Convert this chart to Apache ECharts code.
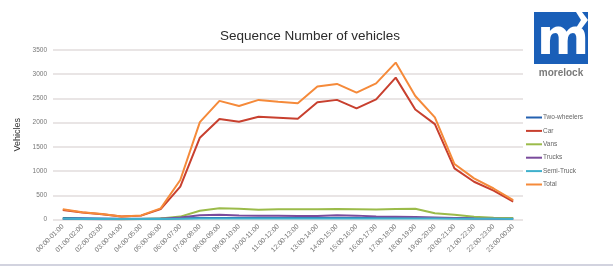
<!DOCTYPE html>
<html><head><meta charset="utf-8">
<script src="https://cdn.jsdelivr.net/npm/echarts@6/dist/echarts.min.js"></script>
<style>html,body{margin:0;padding:0;background:#fff}#c{width:613px;height:271px}</style>
</head><body><div id="c"></div>
<script>
const categories = ["00:00-01:00","01:00-02:00","02:00-03:00","03:00-04:00","04:00-05:00","05:00-06:00","06:00-07:00","07:00-08:00","08:00-09:00","09:00-10:00","10:00-11:00","11:00-12:00","12:00-13:00","13:00-14:00","14:00-15:00","15:00-16:00","16:00-17:00","17:00-18:00","18:00-19:00","19:00-20:00","20:00-21:00","21:00-22:00","22:00-23:00","23:00-00:00"];
const twoWheelers = [30,25,20,15,15,20,25,30,30,30,30,30,30,30,30,30,30,30,30,30,30,25,25,25];
const car   = [195,145,110,60,80,215,680,1690,2075,2020,2120,2100,2080,2420,2470,2295,2480,2930,2270,1970,1055,780,595,370];
const vans  = [15,10,8,5,8,20,60,180,230,220,200,210,210,210,215,210,205,215,220,130,100,55,35,25];
const trucks= [10,8,6,5,8,15,40,90,100,85,80,75,70,70,90,80,60,55,50,40,30,20,15,10];
const semiTruck = [15,12,10,8,8,10,15,20,20,20,20,20,20,20,20,20,20,20,20,20,18,15,15,12];
const total = [210,150,115,60,85,230,815,2010,2450,2345,2470,2430,2400,2745,2800,2620,2810,3240,2550,2110,1145,850,640,400];
const yTicks = {min:0,max:3500,interval:500};
const seriesNames = ["Two-wheelers","Car","Vans","Trucks","Semi-Truck","Total"];
const seriesData = [twoWheelers,car,vans,trucks,semiTruck,total];
const colors = ["#2461b0","#c8402f","#9bbb4a","#7a4b9c","#3fb0cc","#f58a3a"];

const chart = echarts.init(document.getElementById('c'));
chart.setOption({
  animation:false,
  color:colors,
  title:{text:"Sequence Number of vehicles",left:305,textAlign:'center',top:24,
    textStyle:{fontFamily:'Liberation Sans',fontSize:13.5,fontWeight:'normal',color:'#2b2b2b'}},
  grid:{left:53,right:90,top:50,bottom:51.5},
  legend:{orient:'vertical',left:521,top:109,itemWidth:16,itemHeight:8,itemGap:6.4,
    icon:'path://M0,4 L16,4 L16,6 L0,6 Z',
    textStyle:{fontFamily:'Liberation Sans',fontSize:6.5,color:'#666',padding:[0,0,0,-4]},
    data:seriesNames},
  xAxis:{type:'category',data:categories,boundaryGap:true,
    axisLine:{show:false},axisTick:{show:false},
    axisLabel:{rotate:45,interval:0,fontSize:6.8,color:'#777',fontFamily:'Liberation Sans',margin:6}},
  yAxis:{type:'value',min:yTicks.min,max:yTicks.max,interval:yTicks.interval,
    name:'Vehicles',nameLocation:'middle',nameRotate:90,nameGap:27,
    nameTextStyle:{fontFamily:'Liberation Sans',fontSize:9,color:'#333'},
    axisLabel:{fontSize:6.5,color:'#777',fontFamily:'Liberation Sans',margin:6,formatter:v=>String(v)},
    splitLine:{lineStyle:{color:'#e2dcdc',width:1.5}}},
  graphic:[
    {type:'rect',shape:{x:534,y:12,width:54,height:52},style:{fill:'#1a5fb8'}},
    {type:'polygon',shape:{points:[[576,12],[582,12],[588,20],[582,28],[576,28],[581,20]]},style:{fill:'#fff'}},
    {type:'text',x:537,y:66,style:{text:'m',fontFamily:'DejaVu Sans',fontWeight:'bold',fontSize:50,fill:'#fff',textVerticalAlign:'bottom'}},
    {type:'text',x:561,y:73,style:{text:'morelock',fontFamily:'Liberation Sans',fontWeight:'bold',fontSize:10,fill:'#7a7a7a',textAlign:'center',textVerticalAlign:'middle'}},
    {type:'rect',shape:{x:0,y:264,width:613,height:2},style:{fill:'#d2d3df'}}
  ],
  series:seriesNames.map((n,i)=>({name:n,type:'line',data:seriesData[i],symbol:'none',
    lineStyle:{width:2},z:i===5?3:2}))
});
</script></body></html>
